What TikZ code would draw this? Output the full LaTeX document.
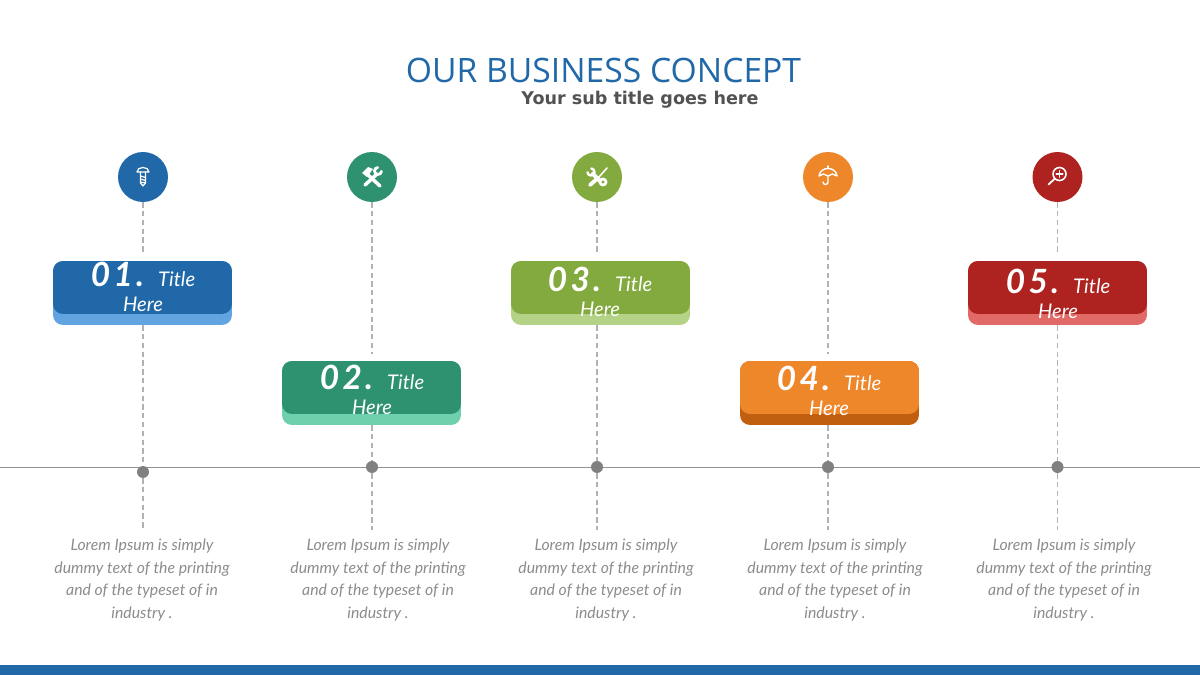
\documentclass[tikz,border=0pt]{standalone}
\usepackage{fontspec}
\setmainfont{Lato}
\newfontfamily\headfont{Open Sans}
\newfontfamily\subfont{DejaVu Sans}
\newfontfamily\numfont[LetterSpace=10]{Lato}
\definecolor{blueTop}{HTML}{2068A8}
\definecolor{blueBase}{HTML}{62A4E0}
\definecolor{greenTop}{HTML}{2E9270}
\definecolor{greenBase}{HTML}{6FD0AE}
\definecolor{oliveTop}{HTML}{82AA3E}
\definecolor{oliveBase}{HTML}{B5D386}
\definecolor{orangeTop}{HTML}{EE862A}
\definecolor{orangeBase}{HTML}{C05F10}
\definecolor{redTop}{HTML}{AE2220}
\definecolor{redBase}{HTML}{E26A66}
\definecolor{bodyGray}{HTML}{8C8C8C}

\begin{document}
\begin{tikzpicture}[
  x=0.02cm,
  y=-0.02cm,
  icondisc/.style={circle, fill=#1, minimum size=1cm, inner sep=0pt},
  cardbase/.style={rectangle, rounded corners=0.2cm, fill=#1, minimum width=3.58cm, minimum height=1.28cm, inner sep=0pt},
  cardtop/.style={rectangle, rounded corners=0.2cm, fill=#1, minimum width=3.58cm, minimum height=1.06cm, inner sep=0pt, anchor=north},
  cardtext/.style={text=white, align=center, inner sep=0pt, font=\fontsize{11.5}{14}\selectfont\itshape},
  bodytext/.style={text=bodyGray, align=center, inner sep=0pt, font=\fontsize{9}{12.75}\selectfont\itshape},
  stem/.style={draw=gray!60, dash pattern=on 3pt off 2pt, line width=0.6pt},
  axisdot/.style={circle, fill=gray, minimum size=0.24cm, inner sep=0pt},
  iconline/.style={draw=white, line width=0.7pt, line cap=round, line join=round},
  iconbold/.style={draw=white, line width=1.5pt, line cap=round}
]
\useasboundingbox (0,0) rectangle (1200,675);

\coordinate (axisleft) at (0,467);
\coordinate (axisright) at (1200,467);
\draw[gray!85, line width=0.5pt] (axisleft) -- (axisright);

\node[icondisc=blueTop] (icon1) at (143,177) {};
\node[icondisc=greenTop] (icon2) at (372,177) {};
\node[icondisc=oliveTop] (icon3) at (597,177) {};
\node[icondisc=orangeTop] (icon4) at (828,177) {};
\node[icondisc=redTop] (icon5) at (1057.5,177) {};

\node[cardbase=blueBase] (base1) at (142.5,293) {};
\node[cardtop=blueTop] (card1) at (base1.north) {};
\node[cardbase=greenBase] (base2) at (371.5,393) {};
\node[cardtop=greenTop] (card2) at (base2.north) {};
\node[cardbase=oliveBase] (base3) at (600.5,293) {};
\node[cardtop=oliveTop] (card3) at (base3.north) {};
\node[cardbase=orangeBase] (base4) at (829.5,393) {};
\node[cardtop=orangeTop] (card4) at (base4.north) {};
\node[cardbase=redBase] (base5) at (1057.5,293) {};
\node[cardtop=redTop] (card5) at (base5.north) {};

\node[axisdot] (dot1) at (143,472) {};
\node[axisdot] (dot2) at (372,467) {};
\node[axisdot] (dot3) at (597,467) {};
\node[axisdot] (dot4) at (828,467) {};
\node[axisdot] (dot5) at (1057.5,467) {};

\coordinate (gap1) at (143,255);
\coordinate (gap2) at (372,354);
\coordinate (gap3) at (597,255);
\coordinate (gap4) at (828,354);
\coordinate (gap5) at (1057.5,255);
\coordinate (foot1) at (143,530);
\coordinate (foot2) at (372,530);
\coordinate (foot3) at (597,530);
\coordinate (foot4) at (828,530);
\coordinate (foot5) at (1057.5,530);

\draw[stem] (icon1) -- (gap1);
\draw[stem] (base1.south -| icon1) -- (dot1);
\draw[stem] (dot1) -- (foot1);
\draw[stem] (icon2) -- (gap2);
\draw[stem] (base2.south -| icon2) -- (dot2);
\draw[stem] (dot2) -- (foot2);
\draw[stem] (icon3) -- (gap3);
\draw[stem] (base3.south -| icon3) -- (dot3);
\draw[stem] (dot3) -- (foot3);
\draw[stem] (icon4) -- (gap4);
\draw[stem] (base4.south -| icon4) -- (dot4);
\draw[stem] (dot4) -- (foot4);
\draw[stem] (icon5) -- (gap5);
\draw[stem] (base5.south -| icon5) -- (dot5);
\draw[stem] (dot5) -- (foot5);

\node[cardtext] (label1) at (143,287) {{\numfont\bfseries\fontsize{19}{14}\selectfont 01.}\hspace{0.28cm}Title\\Here};
\node[cardtext] (label2) at (372,390) {{\numfont\bfseries\fontsize{19}{14}\selectfont 02.}\hspace{0.28cm}Title\\Here};
\node[cardtext] (label3) at (600,292) {{\numfont\bfseries\fontsize{19}{14}\selectfont 03.}\hspace{0.28cm}Title\\Here};
\node[cardtext] (label4) at (829,391) {{\numfont\bfseries\fontsize{19}{14}\selectfont 04.}\hspace{0.28cm}Title\\Here};
\node[cardtext] (label5) at (1058,294) {{\numfont\bfseries\fontsize{19}{14}\selectfont 05.}\hspace{0.28cm}Title\\Here};

\node[bodytext] (body1) at (142,580) {Lorem Ipsum is simply\\dummy text of the printing\\and of the typeset of in\\industry .};
\node[bodytext] (body2) at (378,580) {Lorem Ipsum is simply\\dummy text of the printing\\and of the typeset of in\\industry .};
\node[bodytext] (body3) at (606,580) {Lorem Ipsum is simply\\dummy text of the printing\\and of the typeset of in\\industry .};
\node[bodytext] (body4) at (835,580) {Lorem Ipsum is simply\\dummy text of the printing\\and of the typeset of in\\industry .};
\node[bodytext] (body5) at (1064,580) {Lorem Ipsum is simply\\dummy text of the printing\\and of the typeset of in\\industry .};

\node[text=blueTop, inner sep=0pt, font=\headfont\fontsize{19.15}{24}\selectfont] (title) at (603.5,70) {OUR BUSINESS CONCEPT};
\node[text=black!68, inner sep=0pt, font=\subfont\bfseries\fontsize{10}{12}\selectfont] (subtitle) at (640,100) {Your sub title goes here};

\fill[blueTop] (0,665) rectangle (1200,675);

\begin{scope}[shift={(icon1.center)}]
  \draw[iconline] (-6,-5) .. controls (-6,-11) and (6,-11) .. (6,-5) -- cycle;
  \draw[iconline] (-2.5,-5) -- (-2.5,6) -- (0,9) -- (2.5,6) -- (2.5,-5);
  \draw[iconline] (-2.5,-1) -- (2.5,0.5) (-2.5,2) -- (2.5,3.5) (-2.5,5) -- (2.5,6);
\end{scope}

\begin{scope}[shift={(icon2.center)}]
  \draw[iconbold, line width=2pt] (-6,-4) -- (8,9);
  \draw[iconbold, line width=2pt] (5,-3) -- (-7,8);
  \fill[white] (-10,-4) -- (-4,-10) -- (1,-8) -- (-5,0) -- cycle;
  \draw[iconline, line width=1.6pt] (9.5,-5.7) arc (5:265:3.5);
\end{scope}

\begin{scope}[shift={(icon3.center)}]
  \draw[iconbold, line width=2.4pt] (-4,-3) -- (6,7);
  \draw[iconline, line width=1.4pt] (-5.7,-8.5) arc (275:535:3.5);
  \draw[iconbold, line width=0.9pt] (10,-9) -- (2,0);
  \draw[iconbold, line width=2.2pt] (1,1) -- (-7,8);
  \fill[white] (6,5) circle (4.5);
  \fill[oliveTop] (6,5) circle (1.6);
\end{scope}

\begin{scope}[shift={(icon4.center)}]
  \draw[iconline, line width=0.8pt] (-9,-1) .. controls (-8,-11) and (8,-11) .. (9,-1) -- (4.5,-3) -- (0,-1) -- (-4.5,-3) -- cycle;
  \draw[iconline, line width=0.8pt] (0,-1) -- (0,5) arc (0:180:2.5);
  \draw[iconline, line width=0.8pt] (0,-11) -- (0,-9);
\end{scope}

\begin{scope}[shift={(icon5.center)}]
  \draw[iconline, line width=0.9pt] (2,-3) circle (6.5);
  \draw[iconline, line width=1pt] (-2.6,1.6) -- (-9,7.5);
  \draw[iconline, line width=1pt] (-1.2,-3) -- (5.2,-3) (2,-6.2) -- (2,0.2);
\end{scope}

\end{tikzpicture}
\end{document}
